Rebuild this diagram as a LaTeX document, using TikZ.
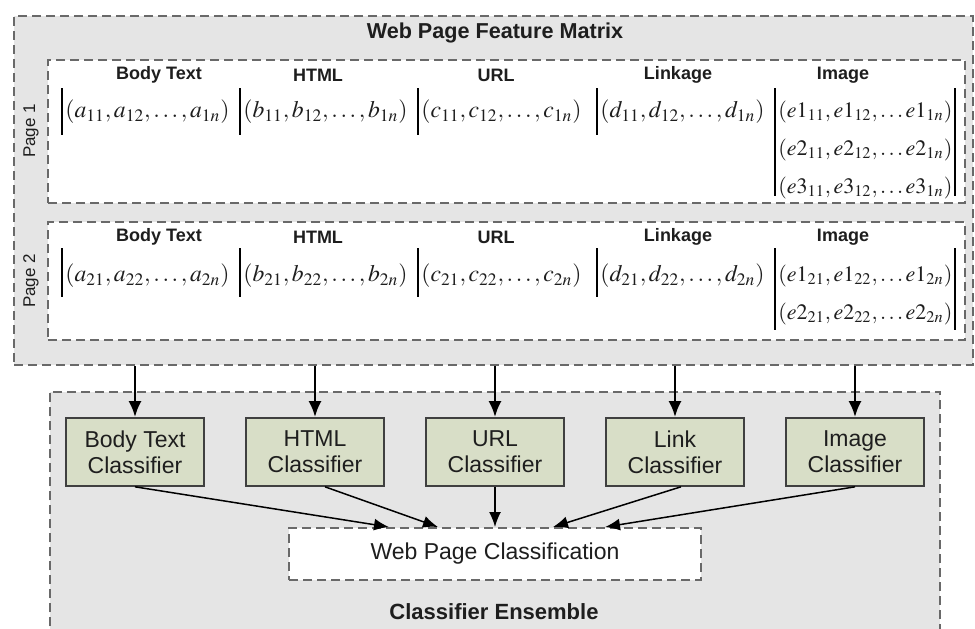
\documentclass[tikz,border=0pt]{standalone}
\usepackage{mathptmx}
\usepackage[no-math]{fontspec}
\setmainfont{Liberation Sans}
\usetikzlibrary{arrows.meta,positioning,fit}

\definecolor{panelgray}{RGB}{229,229,229}
\definecolor{framegray}{RGB}{105,105,105}
\definecolor{clsgreen}{RGB}{216,222,199}
\definecolor{textgray}{RGB}{30,30,30}

\tikzset{
  frame/.style={draw=framegray, line width=1pt, dash pattern=on 4.5pt off 2.5pt, inner sep=0pt},
  panel/.style={frame, fill=panelgray},
  pagebox/.style={frame, fill=white},
  colhead/.style={font=\fontsize{9}{10}\selectfont\bfseries},
  feat/.style={anchor=west, inner sep=0pt, font=\fontsize{11.8}{13}\selectfont},
  efeat/.style={feat, font=\fontsize{11}{13}\selectfont},
  colbar/.style={line width=1.2pt},
  clsbox/.style={draw=black!75, fill=clsgreen, line width=0.8pt, minimum width=69pt, minimum height=34pt, align=center, font=\fontsize{11.5}{13}\selectfont},
  resultbox/.style={frame, fill=white, minimum width=206pt, minimum height=26pt, font=\fontsize{11.5}{13}\selectfont},
  feed/.style={-{Latex[length=8pt,width=6.5pt]}, line width=1.4pt},
  vote/.style={-{Latex[length=7.5pt,width=6pt]}, line width=0.75pt},
}

\begin{document}
\begin{tikzpicture}[x=0.5pt, y=-0.5pt, node distance=90pt, on grid, text=textgray]
  \useasboundingbox (0,0) rectangle (975,628);

  % feature matrix
  \node[panel, fit={(14,16) (973,365)}] (featmat) {};
  \node[font=\fontsize{10.8}{12}\selectfont\bfseries] (title) at (495,33) {Web Page Feature Matrix};
  \node[pagebox, fit={(48,60) (965,203)}] (page1) {};
  \node[pagebox, fit={(48,222) (965,340)}] (page2) {};
  \node[rotate=90, font=\fontsize{8.5}{10}\selectfont] (p1lab) at (31,131) {Page 1};
  \node[rotate=90, font=\fontsize{8.5}{10}\selectfont] (p2lab) at (31,281) {Page 2};

  \foreach \name/\x [count=\i] in {Body Text/159, HTML/318, URL/496, Linkage/678, Image/843} {
    \node[colhead] (hA\i) at (\x,75) {\name};
    \node[colhead] (hB\i) at (\x,237) {\name};
  }

  % column bars
  \foreach \x in {62,240,418,597} {
    \draw[colbar] (\x,88) -- (\x,135);
    \draw[colbar] (\x,248) -- (\x,297);
  }
  \foreach \x in {775,955} {
    \draw[colbar] (\x,88) -- (\x,196);
    \draw[colbar] (\x,248) -- (\x,330);
  }

  % page 1 features
  \node[feat] (a1) at (65,112) {$(a_{11},a_{12},\ldots,a_{1n})$};
  \node[feat] (b1) at (243,112) {$(b_{11},b_{12},\ldots,b_{1n})$};
  \node[feat] (c1) at (421,112) {$(c_{11},c_{12},\ldots,c_{1n})$};
  \node[feat] (d1) at (600,112) {$(d_{11},d_{12},\ldots,d_{1n})$};
  \node[efeat] (e11) at (778,112) {$(e1_{11},e1_{12},\ldots e1_{1n})$};
  \node[efeat] (e21) at (778,150) {$(e2_{11},e2_{12},\ldots e2_{1n})$};
  \node[efeat] (e31) at (778,188) {$(e3_{11},e3_{12},\ldots e3_{1n})$};

  % page 2 features
  \node[feat] (a2) at (65,276) {$(a_{21},a_{22},\ldots,a_{2n})$};
  \node[feat] (b2) at (243,276) {$(b_{21},b_{22},\ldots,b_{2n})$};
  \node[feat] (c2) at (421,276) {$(c_{21},c_{22},\ldots,c_{2n})$};
  \node[feat] (d2) at (600,276) {$(d_{21},d_{22},\ldots,d_{2n})$};
  \node[efeat] (e12) at (778,276) {$(e1_{21},e1_{22},\ldots e1_{2n})$};
  \node[efeat] (e22) at (778,314) {$(e2_{21},e2_{22},\ldots e2_{2n})$};

  % classifier ensemble
  \node[fill=panelgray, inner sep=0pt, fit={(50,392) (940,640)}] (ensemble) {};
  \draw[framegray, line width=1pt, dash pattern=on 4.5pt off 2.5pt]
    (ensemble.south west) |- (ensemble.north east) -- (ensemble.south east);
  \node[font=\fontsize{11}{12.5}\selectfont\bfseries] (enslab) at (494,612) {Classifier Ensemble};

  \node[clsbox] (bodycls) at (135,452) {Body Text\\Classifier};
  \node[clsbox, right=of bodycls] (htmlcls) {HTML\\Classifier};
  \node[clsbox, right=of htmlcls] (urlcls) {URL\\Classifier};
  \node[clsbox, right=of urlcls] (linkcls) {Link\\Classifier};
  \node[clsbox, right=of linkcls] (imgcls) {Image\\Classifier};
  \node[resultbox, below=51pt of urlcls] (webcls) {Web Page Classification};

  \foreach \c in {bodycls,htmlcls,urlcls,linkcls,imgcls}
    \draw[feed] (featmat.south -| \c.north) -- (\c.north);

  \draw[vote] (bodycls.south) -- ([xshift=-53pt]webcls.north);
  \draw[vote] ([xshift=5pt]htmlcls.south) -- ([xshift=-28.5pt]webcls.north);
  \draw[vote] (urlcls.south) -- (webcls.north);
  \draw[vote] ([xshift=3pt]linkcls.south) -- ([xshift=29pt]webcls.north);
  \draw[vote] (imgcls.south) -- ([xshift=55pt]webcls.north);
\end{tikzpicture}
\end{document}
